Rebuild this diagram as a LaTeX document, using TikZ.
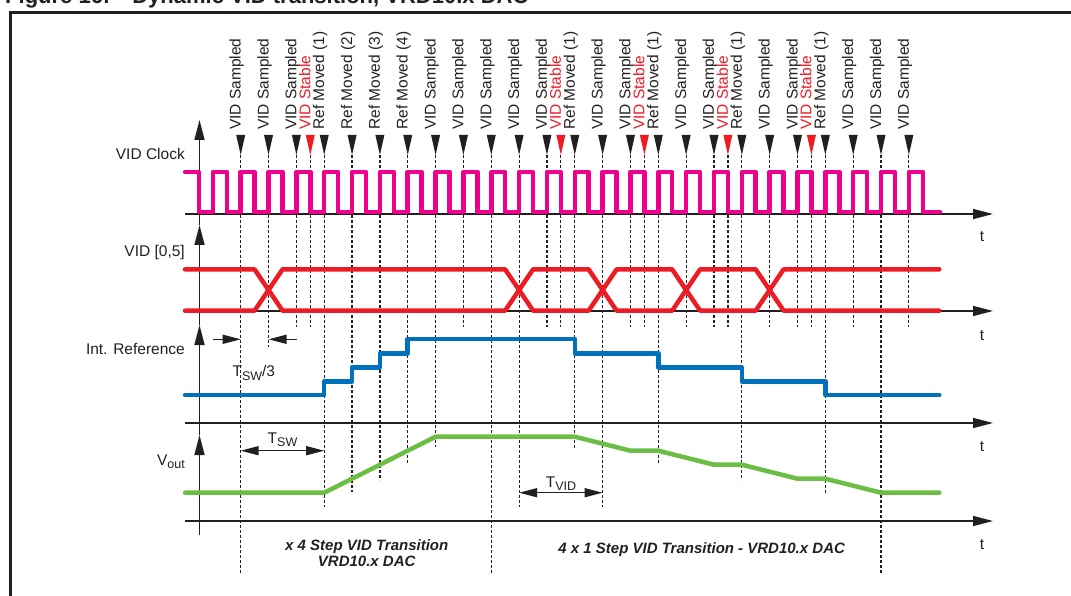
\documentclass[tikz,border=0pt]{standalone}
\usepackage{fontspec}
\setmainfont{Liberation Sans}
\usetikzlibrary{arrows.meta}
\definecolor{clkmag}{RGB}{236,0,140}
\definecolor{vidred}{RGB}{237,28,36}
\definecolor{refblue}{RGB}{0,114,188}
\definecolor{outgreen}{RGB}{106,190,69}
\definecolor{inkblk}{RGB}{35,31,32}
\newcommand{\lowsub}[1]{\raisebox{-3.5pt}{\fontsize{12.5}{14}\selectfont #1}}

\begin{document}
\begin{tikzpicture}[x=1pt,y=-1pt,
    every node/.style={font=\fontsize{15.5}{18}\selectfont, inner sep=0pt, text=inkblk},
    axis/.style={draw=inkblk, line width=1.5pt, -{Triangle[length=20pt,width=10pt]}},
    guide/.style={draw=inkblk, line width=1.2pt, dash pattern=on 3pt off 2pt},
    wave/.style={line width=4.5pt, line cap=round, line join=round},
    dimarrow/.style={draw=inkblk, line width=1.5pt, {Triangle[length=18pt,width=9pt]}-{Triangle[length=18pt,width=9pt]}},
    onearrow/.style={draw=inkblk, line width=1.5pt, -{Triangle[length=18pt,width=9pt]}},
    lbl/.style={rotate=90, anchor=base west}]

  \useasboundingbox (0,0) rectangle (1071,596);

  % Caption and frame
  \node[anchor=base west, font=\fontsize{22}{26}\selectfont\bfseries] (title) at (5,4)
    {Figure 16:\quad Dynamic VID transition, VRD10.x DAC};
  \draw[inkblk, line width=3pt] (10.5,600) -- (10.5,12.5) -- (1075,12.5);

  % Clock edges where things happen
  \foreach \k in {0,...,24}
    \coordinate (s\k) at ({240.7+27.84*\k},155);
  \foreach \k in {2,11,14,17,20}
    \coordinate (h\k) at ({254.62+27.84*\k},155);
  \coordinate (labrow) at (0,130);

  % Levels
  \coordinate (r0) at (0,395);
  \coordinate (r1) at (0,381.3);
  \coordinate (r2) at (0,367.3);
  \coordinate (r3) at (0,353.3);
  \coordinate (r4) at (0,339);
  \coordinate (v0) at (0,492.7);
  \coordinate (v1) at (0,478.7);
  \coordinate (v2) at (0,464.7);
  \coordinate (v3) at (0,450.7);
  \coordinate (v4) at (0,436.7);
  \coordinate (tsw3) at (0,339.3);
  \coordinate (tsw) at (0,450.7);
  \coordinate (tvid) at (0,492.7);

  % Dashed guides
  \foreach \k/\yend in {0/573,1/347,2/326.7,3/507,4/491.7,5/480,6/463,7/446.7,8/326.7,
      9/573,10/507,11/326.7,12/448,13/507,14/326.7,15/463,16/326.7,17/326.7,18/480,
      19/326.7,20/326.7,21/493,22/326.7,23/573,24/326.7}
    \draw[guide] (s\k) -- ++(0,{\yend-155});
  \foreach \k in {2,11,14,17,20}
    \draw[guide] (h\k) -- ++(0,171.7);

  % Axes
  \draw[axis] (185,214) -- (993,214);
  \draw[axis] (185,311) -- (993,311);
  \draw[axis] (185,423) -- (993,423);
  \draw[axis] (185,521) -- (993,521);
  \draw[axis] (199.5,225) -- (199.5,120);
  \draw[axis] (199.5,325) -- (199.5,225);
  \draw[axis] (199.5,435) -- (199.5,325);
  \draw[axis] (199.5,535) -- (199.5,435);
  \foreach \y in {241.7,340,451.7,549.3}
    \node[anchor=base] at (982,\y) {t};

  % Signal names
  \node[anchor=base east] (nclk) at (185,159.3) {VID Clock};
  \node[anchor=base east] (nvid) at (185,256.7) {VID [0,5]};
  \node[anchor=base east] (nref) at (185,354) {Int. Reference};
  \node[anchor=base east] (nout) at (185,465) {V\lowsub{out}};

  % VID Clock
  \draw[wave, clkmag] (185,172) \foreach \k in {-2,...,23} {
      -- ({254.62+27.84*\k},172) -- ({254.62+27.84*\k},212)
      -- ({268.54+27.84*\k},212) -- ({268.54+27.84*\k},172) }
    -- (922.8,172) -- (922.8,212) -- (940,212);

  % VID [0,5]
  \draw[wave, vidred] (185,269.3) \foreach \c in {1,10,13,16,19} {
      -- ({226.7+27.84*\c},269.3) -- ({240.7+27.84*\c},290) -- ({254.7+27.84*\c},269.3) }
    -- (939.3,269.3);
  \draw[wave, vidred] (185,310.7) \foreach \c in {1,10,13,16,19} {
      -- ({226.7+27.84*\c},310.7) -- ({240.7+27.84*\c},290) -- ({254.7+27.84*\c},310.7) }
    -- (939.3,310.7);

  % Int. Reference
  \draw[wave, refblue] (185,395) -- (s3 |- r0) -- (s3 |- r1) -- (s4 |- r1) -- (s4 |- r2)
    -- (s5 |- r2) -- (s5 |- r3) -- (s6 |- r3) -- (s6 |- r4) -- (s12 |- r4) -- (s12 |- r3)
    -- (s15 |- r3) -- (s15 |- r2) -- (s18 |- r2) -- (s18 |- r1) -- (s21 |- r1)
    -- (s21 |- r0) -- (939.3,395);

  % Vout
  \draw[wave, outgreen] (185,492.7) -- (s3 |- v0) -- (s7 |- v4) -- (s12 |- v4) -- (s14 |- v3)
    -- (s15 |- v3) -- (s17 |- v2) -- (s18 |- v2) -- (s20 |- v1) -- (s21 |- v1)
    -- (s23 |- v0) -- (939.3,492.7);

  % Markers and their labels
  \foreach \k in {0,...,24}
    \fill[inkblk] (s\k) -- ++(-4.5,-20) -- ++(9,0) -- cycle;
  \foreach \k in {2,11,14,17,20}
    \fill[vidred] (h\k) -- ++(-4.5,-20) -- ++(9,0) -- cycle;
  \foreach \k/\txt in {0/VID Sampled,1/VID Sampled,2/VID Sampled,3/Ref Moved (1),
      4/Ref Moved (2),5/Ref Moved (3),6/Ref Moved (4),7/VID Sampled,8/VID Sampled,
      9/VID Sampled,10/VID Sampled,11/VID Sampled,12/Ref Moved (1),13/VID Sampled,
      14/VID Sampled,15/Ref Moved (1),16/VID Sampled,17/VID Sampled,18/Ref Moved (1),
      19/VID Sampled,20/VID Sampled,21/Ref Moved (1),22/VID Sampled,23/VID Sampled,
      24/VID Sampled}
    \node[lbl] (l\k) at (s\k |- labrow) {\txt};
  \foreach \k in {2,11,14,17,20}
    \node[lbl, text=vidred] (st\k) at (h\k |- labrow) {VID Stable};

  % Timing dimensions
  \draw[onearrow] (213,339.3) -- (s0 |- tsw3);
  \draw[onearrow] (297,339.3) -- (s1 |- tsw3);
  \node[anchor=base] (ltsw3) at (253.8,376.7) {T\lowsub{SW}/3};
  \draw[dimarrow] (s0 |- tsw) -- (s3 |- tsw);
  \node[anchor=base] (ltsw) at (282.5,443) {T\lowsub{SW}};
  \draw[dimarrow] (s10 |- tvid) -- (s13 |- tvid);
  \node[anchor=base] (ltvid) at (561,487) {T\lowsub{VID}};

  % Transition captions
  \node[anchor=base, font=\fontsize{15}{18}\selectfont\bfseries\itshape] (cap1) at (366.7,550)
    {x 4 Step VID Transition};
  \node[anchor=base, font=\fontsize{15}{18}\selectfont\bfseries\itshape] (cap2) at (366.7,566.7)
    {VRD10.x DAC};
  \node[anchor=base, font=\fontsize{15}{18}\selectfont\bfseries\itshape] (cap3) at (701.7,553.3)
    {4 x 1 Step VID Transition - VRD10.x DAC};
\end{tikzpicture}
\end{document}
